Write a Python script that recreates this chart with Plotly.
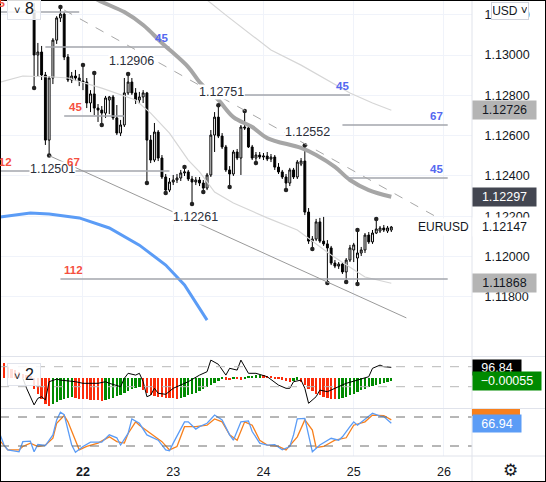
import pandas as pd
import plotly.graph_objects as go
from plotly.subplots import make_subplots

DAY0 = pd.Timestamp("2021-11-22 00:00")
X0_H, X1_H = -22.07, 103.46          # visible time window, hours from 22 Nov 00:00

# ---- EURUSD 1h candles, 21 Nov 11:00 -> 25 Nov 10:00 ----
candle_start = "2021-11-21 11:00"
open_ = [1.13223, 1.13000, 1.13015, 1.12901, 1.12578, 1.12886, 1.13074, 1.13184, 1.13203, 1.12990,
         1.12876, 1.12896, 1.12886, 1.12871, 1.12866, 1.12762, 1.12807, 1.12737, 1.12727, 1.12712,
         1.12777, 1.12792, 1.12688, 1.12613, 1.12653, 1.12812, 1.12866, 1.12812, 1.12777, 1.12792,
         1.12812, 1.12578, 1.12479, 1.12618, 1.12489, 1.12395, 1.12330, 1.12370, 1.12380, 1.12390,
         1.12415, 1.12420, 1.12385, 1.12370, 1.12380, 1.12365, 1.12340, 1.12405, 1.12603, 1.12692,
         1.12598, 1.12544, 1.12430, 1.12410, 1.12519, 1.12489, 1.12643, 1.12638, 1.12544, 1.12489,
         1.12504, 1.12494, 1.12499, 1.12484, 1.12494, 1.12444, 1.12420, 1.12395, 1.12365, 1.12430,
         1.12395, 1.12459, 1.12474, 1.12221, 1.12077, 1.12087, 1.12172, 1.12077, 1.12063, 1.12043,
         1.11968, 1.11953, 1.11963, 1.11924, 1.11983, 1.12033, 1.11993, 1.12018, 1.12033, 1.12107,
         1.12073, 1.12117, 1.12127, 1.12142, 1.12127, 1.12132]
high = [1.13258, 1.13060, 1.13045, 1.12916, 1.12896, 1.13084, 1.13193, 1.13238, 1.13213, 1.13005,
        1.12916, 1.12926, 1.12906, 1.12950, 1.12886, 1.12826, 1.12911, 1.12757, 1.12747, 1.12797,
        1.12797, 1.12802, 1.12752, 1.12678, 1.12886, 1.12906, 1.12886, 1.12836, 1.12817, 1.12826,
        1.12817, 1.12603, 1.12663, 1.12628, 1.12504, 1.12410, 1.12390, 1.12405, 1.12410, 1.12430,
        1.12444, 1.12430, 1.12400, 1.12395, 1.12395, 1.12380, 1.12415, 1.12628, 1.12717, 1.12751,
        1.12613, 1.12554, 1.12449, 1.12529, 1.12534, 1.12653, 1.12722, 1.12648, 1.12554, 1.12519,
        1.12519, 1.12514, 1.12519, 1.12509, 1.12504, 1.12464, 1.12430, 1.12410, 1.12440, 1.12440,
        1.12479, 1.12489, 1.12552, 1.12241, 1.12102, 1.12187, 1.12192, 1.12197, 1.12082, 1.12053,
        1.11983, 1.11973, 1.11973, 1.11993, 1.12058, 1.12068, 1.12132, 1.12048, 1.12117, 1.12122,
        1.12132, 1.12187, 1.12152, 1.12157, 1.12152, 1.12152]
low = [1.12836, 1.12891, 1.12876, 1.12554, 1.12501, 1.12856, 1.13055, 1.13164, 1.12975, 1.12866,
       1.12861, 1.12871, 1.12846, 1.12826, 1.12737, 1.12717, 1.12702, 1.12668, 1.12653, 1.12688,
       1.12707, 1.12678, 1.12603, 1.12598, 1.12643, 1.12802, 1.12802, 1.12757, 1.12757, 1.12762,
       1.12365, 1.12464, 1.12469, 1.12474, 1.12385, 1.12316, 1.12320, 1.12355, 1.12365, 1.12375,
       1.12400, 1.12375, 1.12261, 1.12355, 1.12350, 1.12320, 1.12330, 1.12395, 1.12519, 1.12588,
       1.12534, 1.12420, 1.12345, 1.12400, 1.12479, 1.12405, 1.12628, 1.12539, 1.12479, 1.12464,
       1.12484, 1.12479, 1.12474, 1.12469, 1.12430, 1.12410, 1.12385, 1.12330, 1.12350, 1.12385,
       1.12385, 1.12449, 1.12206, 1.12063, 1.12038, 1.12077, 1.12068, 1.12053, 1.11869, 1.11958,
       1.11943, 1.11939, 1.11914, 1.11874, 1.11973, 1.11973, 1.11864, 1.12003, 1.12018, 1.12063,
       1.12063, 1.12112, 1.12117, 1.12122, 1.12117, 1.12122]
close = [1.13000, 1.13015, 1.12901, 1.12578, 1.12886, 1.13074, 1.13184, 1.13203, 1.12990, 1.12876,
         1.12896, 1.12886, 1.12871, 1.12866, 1.12762, 1.12807, 1.12737, 1.12727, 1.12712, 1.12787,
         1.12792, 1.12688, 1.12613, 1.12653, 1.12812, 1.12866, 1.12812, 1.12777, 1.12792, 1.12812,
         1.12578, 1.12479, 1.12618, 1.12489, 1.12395, 1.12330, 1.12370, 1.12380, 1.12390, 1.12415,
         1.12420, 1.12385, 1.12370, 1.12380, 1.12365, 1.12340, 1.12405, 1.12603, 1.12692, 1.12598,
         1.12544, 1.12430, 1.12410, 1.12519, 1.12489, 1.12643, 1.12638, 1.12544, 1.12489, 1.12504,
         1.12494, 1.12499, 1.12484, 1.12494, 1.12444, 1.12420, 1.12395, 1.12365, 1.12430, 1.12395,
         1.12469, 1.12474, 1.12221, 1.12077, 1.12087, 1.12172, 1.12077, 1.12063, 1.12043, 1.11968,
         1.11953, 1.11963, 1.11924, 1.11983, 1.12043, 1.12058, 1.12018, 1.12033, 1.12107, 1.12073,
         1.12117, 1.12137, 1.12142, 1.12132, 1.12142, 1.12147]

# zigzag pivots (candle index, H/L) and the ones carrying a price label
pivot_idx = [0, 4, 7, 13, 16, 18, 25, 30, 35, 40, 42, 45, 49, 52, 56, 59, 67, 72, 74, 78, 83, 86, 86, 91]
pivot_side = "LLHHHLHLLHLLHLHLLHLLLHLH"
labelled = [(25, "H"), (49, "H"), (72, "H"), (4, "L"), (42, "L")]

# overlays on price pane (hours from 22 Nov 00:00, price)
ma_slow_h = [-1, 4, 11, 16, 21, 28, 31, 36, 40, 45, 49, 58, 62, 67, 71, 76, 82]
ma_slow = [1.13332, 1.13273, 1.13213, 1.13149, 1.13060, 1.12940, 1.12866, 1.12777, 1.12692,
           1.12643, 1.12588, 1.12539, 1.12504, 1.12445, 1.12380, 1.12330, 1.12297]
band_up_h = [29, 33, 38, 45, 50, 58, 66, 71, 77, 82]
band_up = [1.13347, 1.13273, 1.13198, 1.13099, 1.13025, 1.12950, 1.12866, 1.12812, 1.12762, 1.12726]
band_lo_h = [-22, -16, -8, -4, 5, 14, 18, 23, 28, 31, 35, 40, 49, 57, 66, 75, 82]
band_lo = [1.12866, 1.12896, 1.12891, 1.12886, 1.12836, 1.12777, 1.12712, 1.12613, 1.12479,
           1.12420, 1.12320, 1.12266, 1.12192, 1.12132, 1.12008, 1.11899, 1.11868]
ma_blue_h = [-22, -14, -9, -1, 7, 15, 22, 27, 33]
ma_blue = [1.12196, 1.12216, 1.12211, 1.12192, 1.12142, 1.12057, 1.11958, 1.11859, 1.11685]

trend_h, trend_p = [-5, 94], [1.13223, 1.12197]          # dashed upper channel
channel_h, channel_p = [-9, 86], [1.12501, 1.11696]      # solid lower channel

level_price = [1.13213, 1.13040, 1.12697, 1.12425, 1.12802, 1.12653, 1.12390, 1.11889]
level_h0 = [-22, -10, -5, -22, 43, 69, 70, -6]
level_h1 = [-1, 23, 11, 23, 71, 97, 97, 97]
tag_text = ["45", "45", "45", "112", "67", "45", "67", "45", "112"]
tag_red = [True, False, True, True, True, False, False, False, True]
tag_level = [0, 1, 2, 3, 3, 4, 5, 6, 7]
tag_h = [-22.6, 21, -2, -21.4, -2.4, 68.9, 94.1, 94.1, -2.4]

# middle pane: histogram (hourly from 21 Nov 02:00) and oscillator line
hist_start = "2021-11-21 02:00"
hist = [0.00251, 0.00236, 0.00173, 0.00141, 0.00126, 0.00094, 0.00063, 0.00047, 0.00016,
        -0.00173, -0.00251, -0.00330, -0.00408, -0.00440,
        -0.00408, -0.00377, -0.00345, -0.00330, -0.00314, -0.00298,
        -0.00314, -0.00330, -0.00335, -0.00340, -0.00345, -0.00350, -0.00355, -0.00361,
        -0.00345, -0.00330, -0.00314, -0.00283, -0.00267, -0.00236, -0.00204, -0.00173, -0.00157, -0.00141,
        -0.00188, -0.00236, -0.00267, -0.00283, -0.00298, -0.00308, -0.00314, -0.00320, -0.00325, -0.00330,
        -0.00314, -0.00298, -0.00267, -0.00251, -0.00236, -0.00204, -0.00173, -0.00141, -0.00110, -0.00079,
        -0.00047, -0.00016,
        -0.00031, -0.00035, -0.00016, -0.00022, -0.00031, -0.00012,
        0.00016, 0.00031, 0.00042, 0.00047,
        0.00042, 0.00031, 0.00016, -0.00016, -0.00022, -0.00031, -0.00047, -0.00063,
        -0.00047, -0.00031,
        -0.00063, -0.00110, -0.00173, -0.00204, -0.00251, -0.00267, -0.00298, -0.00314, -0.00330, -0.00335,
        -0.00330, -0.00314, -0.00298, -0.00267, -0.00251, -0.00220, -0.00188, -0.00173, -0.00141, -0.00126,
        -0.00110, -0.00094, -0.00079, -0.00063, -0.00055]
osc_h = [-16, -15, -13, -12, -11, -10, -9, -7, -6, -2, 0, 4, 6, 7, 10, 11, 12, 14, 15, 16, 17, 18, 19,
         20, 22, 24, 28, 31, 33, 34, 36, 38, 39, 41, 42, 43, 44, 46, 49, 52, 54, 55, 56, 58, 59, 60, 62,
         63, 65, 67, 70, 73, 76, 77, 79, 80, 82]
osc = [42, -8, -91, -58, -50, -66, 25, 38, 33, 25, 17, 17, 25, 17, 0, 42, 67, 58, 67, 25, -50, -42, -8,
       -33, -38, -8, 25, 58, 75, 133, 112, 58, 92, 83, 133, 100, 67, 67, 50, 8, -8, -8, 25, 33, -8, -83,
       -50, -17, -25, -8, 17, 33, 50, 92, 108, 100, 96.84]

# bottom pane: stochastic
stoch_k_h = [-22, -21, -20, -17, -16, -14, -13, -12, -10, -8, -7, -6, -5, -4, -3, -2, 0, 2, 5, 7, 9, 10,
             12, 13, 15, 17, 20, 22, 23, 24, 27, 28, 30, 31, 33, 35, 37, 39, 40, 42, 44, 45, 47, 49, 51,
             53, 55, 56, 57, 59, 60, 61, 63, 66, 68, 69, 71, 72, 73, 75, 77, 79, 80, 82]
stoch_k = [43, 22, 12, 8, 29, 30, 8, 23, 21, 43, 74, 90, 85, 50, 22, 7, 19, 28, 28, 43, 37, 22, 46, 76,
           67, 43, 32, 12, 10, 26, 70, 70, 55, 60, 67, 84, 74, 43, 32, 70, 72, 50, 26, 22, 23, 12, 19,
           43, 76, 77, 43, 8, 22, 36, 32, 39, 60, 70, 63, 76, 88, 82, 81, 66.94]
stoch_d_h = [-22, -20, -17, -16, -14, -12, -10, -8, -7, -5, -4, -2, -1, 1, 4, 7, 9, 11, 12, 14, 15, 18,
             21, 23, 25, 27, 30, 33, 35, 37, 39, 41, 43, 45, 47, 49, 52, 54, 57, 59, 61, 62, 64, 67, 70,
             72, 75, 77, 80, 82]
stoch_d = [30, 12, 12, 19, 26, 19, 22, 36, 67, 83, 70, 32, 12, 19, 26, 39, 29, 26, 46, 70, 63, 46, 29,
           12, 19, 60, 60, 63, 76, 70, 43, 32, 70, 63, 32, 22, 19, 12, 39, 74, 53, 17, 19, 32, 37, 63,
           70, 84, 83, 74]

days = ["2021-11-22", "2021-11-23", "2021-11-24", "2021-11-25", "2021-11-26"]
day_text = ["<b>22</b>", "23", "24", "25", "26"]

FONT = "Liberation Sans, Arial, sans-serif"
INK = "#131722"
RED = "#f5503f"
BLUE_TAG = "#5468f0"
BLUE = "#5b9cf6"
ORANGE = "#f7801d"
W, H, PLOT_W, PLOT_H = 546, 482, 472, 456


def at(h):
    return DAY0 + pd.Timedelta(hours=h)


def hours(hs):
    return [at(h) for h in hs]


def px(x):      # paper x from pixel column
    return x / PLOT_W


def py(y):      # paper y from pixel row
    return (PLOT_H - y) / PLOT_H


t_candle = pd.date_range(candle_start, periods=len(close), freq="h")
t_hist = pd.date_range(hist_start, periods=len(hist), freq="h")

fig = make_subplots(rows=3, cols=1, shared_xaxes=True, vertical_spacing=0,
                    specs=[[{}], [{"secondary_y": True}], [{}]])

# price pane
fig.add_trace(go.Scatter(x=hours(band_lo_h), y=band_lo, mode="lines",
                         line=dict(color="#d6d6d6", width=1.2)), row=1, col=1)
fig.add_trace(go.Scatter(x=hours(band_up_h), y=band_up, mode="lines",
                         line=dict(color="#d6d6d6", width=1.2)), row=1, col=1)
fig.add_trace(go.Scatter(x=hours(ma_blue_h), y=ma_blue, mode="lines",
                         line=dict(color=BLUE, width=3)), row=1, col=1)
fig.add_trace(go.Scatter(x=hours(ma_slow_h), y=ma_slow, mode="lines", line_shape="spline",
                         line=dict(color="#a6a6a6", width=4)), row=1, col=1)
fig.add_trace(go.Candlestick(
    x=t_candle, open=open_, high=high, low=low, close=close, whiskerwidth=0,
    increasing=dict(line=dict(color="#000000", width=1), fillcolor="#ffffff"),
    decreasing=dict(line=dict(color="#000000", width=1), fillcolor="#000000"),
), row=1, col=1)
fig.add_trace(go.Scatter(
    x=[t_candle[i] for i in pivot_idx],
    y=[high[i] if s == "H" else low[i] for i, s in zip(pivot_idx, pivot_side)],
    mode="markers", marker=dict(size=4.5, color="#222222")), row=1, col=1)

# middle pane
hist_colors = []
for i, v in enumerate(hist):
    prev = hist[i - 1] if i > 0 else hist[0] + 1
    hist_colors.append("#008a00" if v > prev else "#fb2c0b")
fig.add_trace(go.Bar(x=t_hist, y=hist, marker=dict(color=hist_colors, line_width=0),
                     width=0.62 * 3600 * 1000), row=2, col=1, secondary_y=False)
fig.add_trace(go.Scatter(x=hours(osc_h), y=osc, mode="lines",
                         line=dict(color="#000000", width=1)), row=2, col=1, secondary_y=True)

# stochastic pane
fig.add_trace(go.Scatter(x=hours(stoch_d_h), y=stoch_d, mode="lines",
                         line=dict(color=ORANGE, width=1.3)), row=3, col=1)
fig.add_trace(go.Scatter(x=hours(stoch_k_h), y=stoch_k, mode="lines",
                         line=dict(color=BLUE, width=1.3)), row=3, col=1)

shapes = []
for p, h0, h1 in zip(level_price, level_h0, level_h1):
    shapes.append(dict(type="line", xref="x", yref="y", x0=at(h0), x1=at(h1), y0=p, y1=p,
                       line=dict(color="#a3a6ad", width=1.5)))
shapes.append(dict(type="line", xref="x", yref="y", x0=at(trend_h[0]), x1=at(trend_h[1]),
                   y0=trend_p[0], y1=trend_p[1], line=dict(color="#a8a8a8", width=1, dash="dash")))
shapes.append(dict(type="line", xref="x", yref="y", x0=at(channel_h[0]), x1=at(channel_h[1]),
                   y0=channel_p[0], y1=channel_p[1], line=dict(color="#9a9a9a", width=1)))
for v in (100, 0):
    shapes.append(dict(type="line", xref="paper", yref="y3", x0=0, x1=1, y0=v, y1=v,
                       line=dict(color="#b8b8b8", width=1, dash="dash")))
for v in (80, 20):
    shapes.append(dict(type="line", xref="paper", yref="y4", x0=0, x1=1, y0=v, y1=v,
                       line=dict(color="#6f6f6f", width=1, dash="dash")))
for y in (356.5, 408.5, 456):
    shapes.append(dict(type="line", xref="paper", yref="paper", x0=0, x1=px(W), y0=py(y), y1=py(y),
                       line=dict(color="#e0e3eb", width=1)))
shapes.append(dict(type="line", xref="paper", yref="paper", x0=1, x1=1, y0=py(H), y1=1,
                   line=dict(color="#e0e3eb", width=1)))
# orange stochastic value tag, clipped by the pane border
shapes.append(dict(type="rect", xref="paper", yref="paper", x0=1, x1=px(520), y0=py(416), y1=py(409),
                   fillcolor=ORANGE, line_width=0))
shapes.append(dict(type="rect", xref="paper", yref="paper", x0=0, x1=px(W), y0=py(H), y1=1,
                   line=dict(color="#000000", width=2)))

ann = []
for i, side in labelled:
    val = high[i] if side == "H" else low[i]
    ann.append(dict(x=t_candle[i], y=val, xref="x", yref="y", text=f"{val:.5f}", showarrow=False,
                    xshift=3, yshift=13 if side == "H" else -13, bgcolor="#ffffff",
                    font=dict(family=FONT, size=12.5, color="#2a2e39"), borderpad=0))
for txt, red, lv, h in zip(tag_text, tag_red, tag_level, tag_h):
    a = dict(y=level_price[lv], yref="y", text=f"<b>{txt}</b>", showarrow=False, yshift=9,
             xanchor="center", font=dict(family=FONT, size=11.5, color=RED if red else BLUE_TAG))
    if h < X0_H:
        a.update(xref="paper", x=(h - X0_H) / (X1_H - X0_H))
    else:
        a.update(xref="x", x=at(h))
    ann.append(a)
ann.append(dict(x=t_candle[-1] + pd.Timedelta(hours=14), y=close[-1], xref="x", yref="y",
                text="EURUSD", showarrow=False, bgcolor="#ffffff", xanchor="center",
                font=dict(family=FONT, size=12, color=INK)))

tags = [(band_up[-1], "#b4b4b4", INK), (ma_slow[-1], "#434651", "#ffffff"),
        (close[-1], "#ffffff", INK), (band_lo[-1], "#b4b4b4", INK)]
for val, bg, fg in tags:
    ann.append(dict(xref="paper", x=1, xanchor="left", yref="y", y=val, text=f"{val:.5f}",
                    showarrow=False, bgcolor=bg, width=61, height=16, borderpad=1,
                    font=dict(family=FONT, size=12.5, color=fg)))
ann.append(dict(xref="paper", x=1, xanchor="left", yref="y3", y=osc[-1], text=f"{osc[-1]:.2f}",
                showarrow=False, bgcolor="#000000", width=46, height=13, borderpad=1,
                font=dict(family=FONT, size=12.5, color="#ffffff")))
ann.append(dict(xref="paper", x=1, xanchor="left", yref="y2", y=hist[-1],
                text=f"{hist[-1]:.5f}".replace("-", "\u2212"), showarrow=False, bgcolor="#008a00",
                width=66, height=16, borderpad=1, font=dict(family=FONT, size=12.5, color="#ffffff")))
ann.append(dict(xref="paper", x=1, xanchor="left", yref="y4", y=stoch_k[-1], text=f"{stoch_k[-1]:.2f}",
                showarrow=False, bgcolor=BLUE, width=46, height=15, borderpad=1,
                font=dict(family=FONT, size=12.5, color="#ffffff")))

# pane legends, currency button, settings icon
for yy, n in ((py(-3), "8"), (py(363), "2")):
    ann.append(dict(xref="paper", yref="paper", x=px(7), y=yy, xanchor="left", yanchor="top",
                    text=f"<span style='font-size:11px'>\u02c5</span> {n}", showarrow=False,
                    bgcolor="rgba(255,255,255,0.85)", bordercolor="#e0e3eb", borderwidth=1,
                    borderpad=2, width=28, font=dict(family=FONT, size=16, color=INK)))
ann.append(dict(xref="paper", yref="paper", x=px(510), y=py(11), xanchor="center", yanchor="middle",
                text="USD \u02c5", showarrow=False, bgcolor="#ffffff", bordercolor="#d1d4dc",
                borderwidth=1, borderpad=1, width=34, font=dict(family=FONT, size=12, color=INK)))
ann.append(dict(xref="paper", yref="paper", x=px(511), y=py(470), xanchor="center", yanchor="middle",
                text="\u2699", showarrow=False, font=dict(family="DejaVu Sans", size=17, color=INK)))

fig.update_layout(
    width=W, height=H, autosize=False, showlegend=False,
    margin=dict(l=0, r=W - PLOT_W, t=0, b=H - PLOT_H, autoexpand=False),
    paper_bgcolor="#ffffff", plot_bgcolor="#ffffff",
    font=dict(family=FONT, size=12, color=INK),
    shapes=shapes, annotations=ann, bargap=0, boxgap=0.28, hovermode=False,
)
fig.update_xaxes(type="date", domain=[0, 1], range=[at(X0_H), at(X1_H)], tickvals=days,
                 ticktext=day_text, showgrid=True, gridcolor="#f0f3fa", zeroline=False,
                 showline=False, rangeslider_visible=False, fixedrange=True, automargin=False)
fig.update_xaxes(showticklabels=True, ticks="outside", ticklen=4, tickcolor="rgba(0,0,0,0)",
                 tickfont=dict(family=FONT, size=12.5, color=INK), row=3, col=1)
fig.update_layout(
    yaxis=dict(domain=[py(356), 1], range=[1.11507, 1.13273], side="right",
               tickvals=[1.118, 1.120, 1.122, 1.124, 1.126, 1.128, 1.130, 1.132], tickformat=".5f",
               showgrid=True, gridcolor="#f0f3fa", zeroline=False, ticks="outside", ticklen=9,
               tickcolor="rgba(0,0,0,0)", tickfont=dict(family=FONT, size=12.5, color=INK),
               fixedrange=True, automargin=False),
    yaxis2=dict(domain=[py(408), py(357)], range=[-0.00476, 0.00325], showticklabels=False,
                showgrid=False, zeroline=False, fixedrange=True, automargin=False),
    yaxis3=dict(range=[-106.5, 148.5], showticklabels=False, showgrid=False, zeroline=False,
                fixedrange=True, automargin=False),
    yaxis4=dict(domain=[0, py(409)], range=[-0.7, 96.55], showticklabels=False, showgrid=False,
                zeroline=False, fixedrange=True, automargin=False),
)

fig.write_html("out.html", config={"displayModeBar": False},
               post_script="document.body.style.margin='0';")
